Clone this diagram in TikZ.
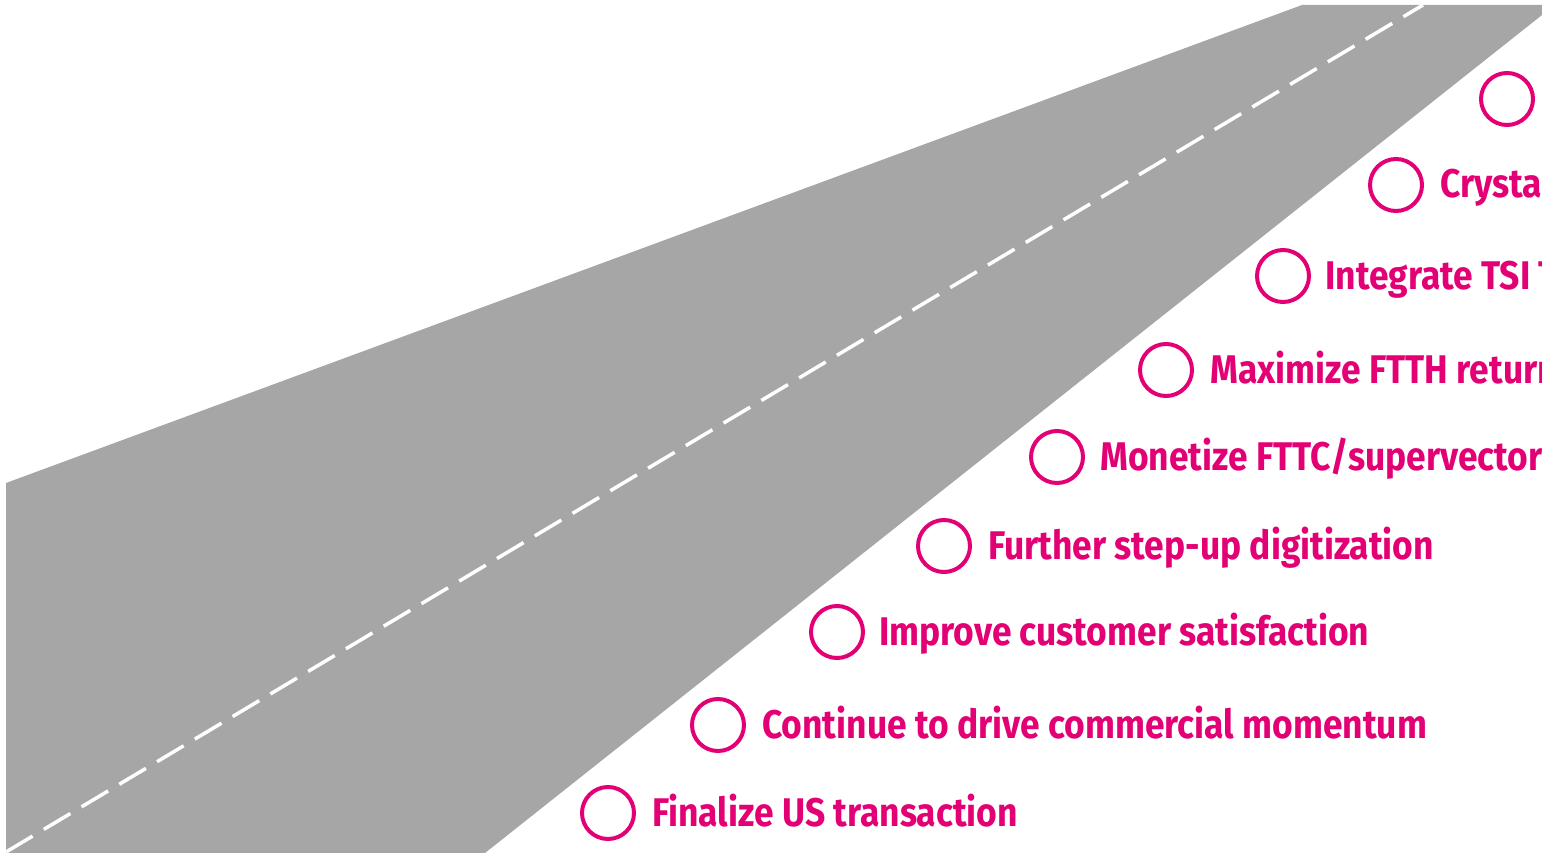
\documentclass[tikz,border=0pt]{standalone}
\usepackage{fontspec}
\newfontfamily\roadfont[FakeStretch=0.885]{Fira Sans}
\definecolor{tmagenta}{HTML}{E20074}
\definecolor{roadgrey}{HTML}{A6A6A6}
\begin{document}
\begin{tikzpicture}[x=1pt,y=-1pt,
  milestone/.style={circle, draw=tmagenta, line width=4pt, minimum size=52pt, inner sep=0pt},
  goal/.style={anchor=base west, inner sep=0pt, text=tmagenta, font=\roadfont\bfseries\fontsize{40}{44}\selectfont},
  lane/.style={draw=white, line width=3.5pt, dash pattern=on 31pt off 13pt}]
\useasboundingbox (0,0) rectangle (1542,853);
\clip (0,0) rectangle (1542,853);
% the road
\fill[roadgrey] (6,483) -- (1302,5) -- (1542,5) -- (1542,15) -- (485,853) -- (6,853) -- cycle;
% centre lane marking
\coordinate (laneA) at (6,852);
\coordinate (laneB) at (1423,5);
\draw[lane] (laneA) -- (laneB);
% milestones along the road
\node[milestone] (c1) at (608,813) {};
\node[milestone] (c2) at (718,725) {};
\node[milestone] (c3) at (837,632) {};
\node[milestone] (c4) at (944,546) {};
\node[milestone] (c5) at (1057,457) {};
\node[milestone] (c6) at (1166,370) {};
\node[milestone] (c7) at (1283,276) {};
\node[milestone] (c8) at (1396,185) {};
\node[milestone] (c9) at (1507,99) {};
\node[goal] (t1) at ([xshift=44pt,yshift=-13pt]c1.center) {Finalize US transaction};
\node[goal] (t2) at ([xshift=44pt,yshift=-13pt]c2.center) {Continue to drive commercial momentum};
\node[goal] (t3) at ([xshift=42pt,yshift=-13pt]c3.center) {Improve customer satisfaction};
\node[goal] (t4) at ([xshift=44pt,yshift=-13pt]c4.center) {Further step-up digitization};
\node[goal] (t5) at ([xshift=43pt,yshift=-13pt]c5.center) {Monetize FTTC/supervectoring};
\node[goal] (t6) at ([xshift=44pt,yshift=-13pt]c6.center) {Maximize FTTH return};
\node[goal] (t7) at ([xshift=42pt,yshift=-13pt]c7.center) {Integrate TSI T};
\node[goal] (t8) at ([xshift=44pt,yshift=-13pt]c8.center) {Crystal};
\end{tikzpicture}
\end{document}
